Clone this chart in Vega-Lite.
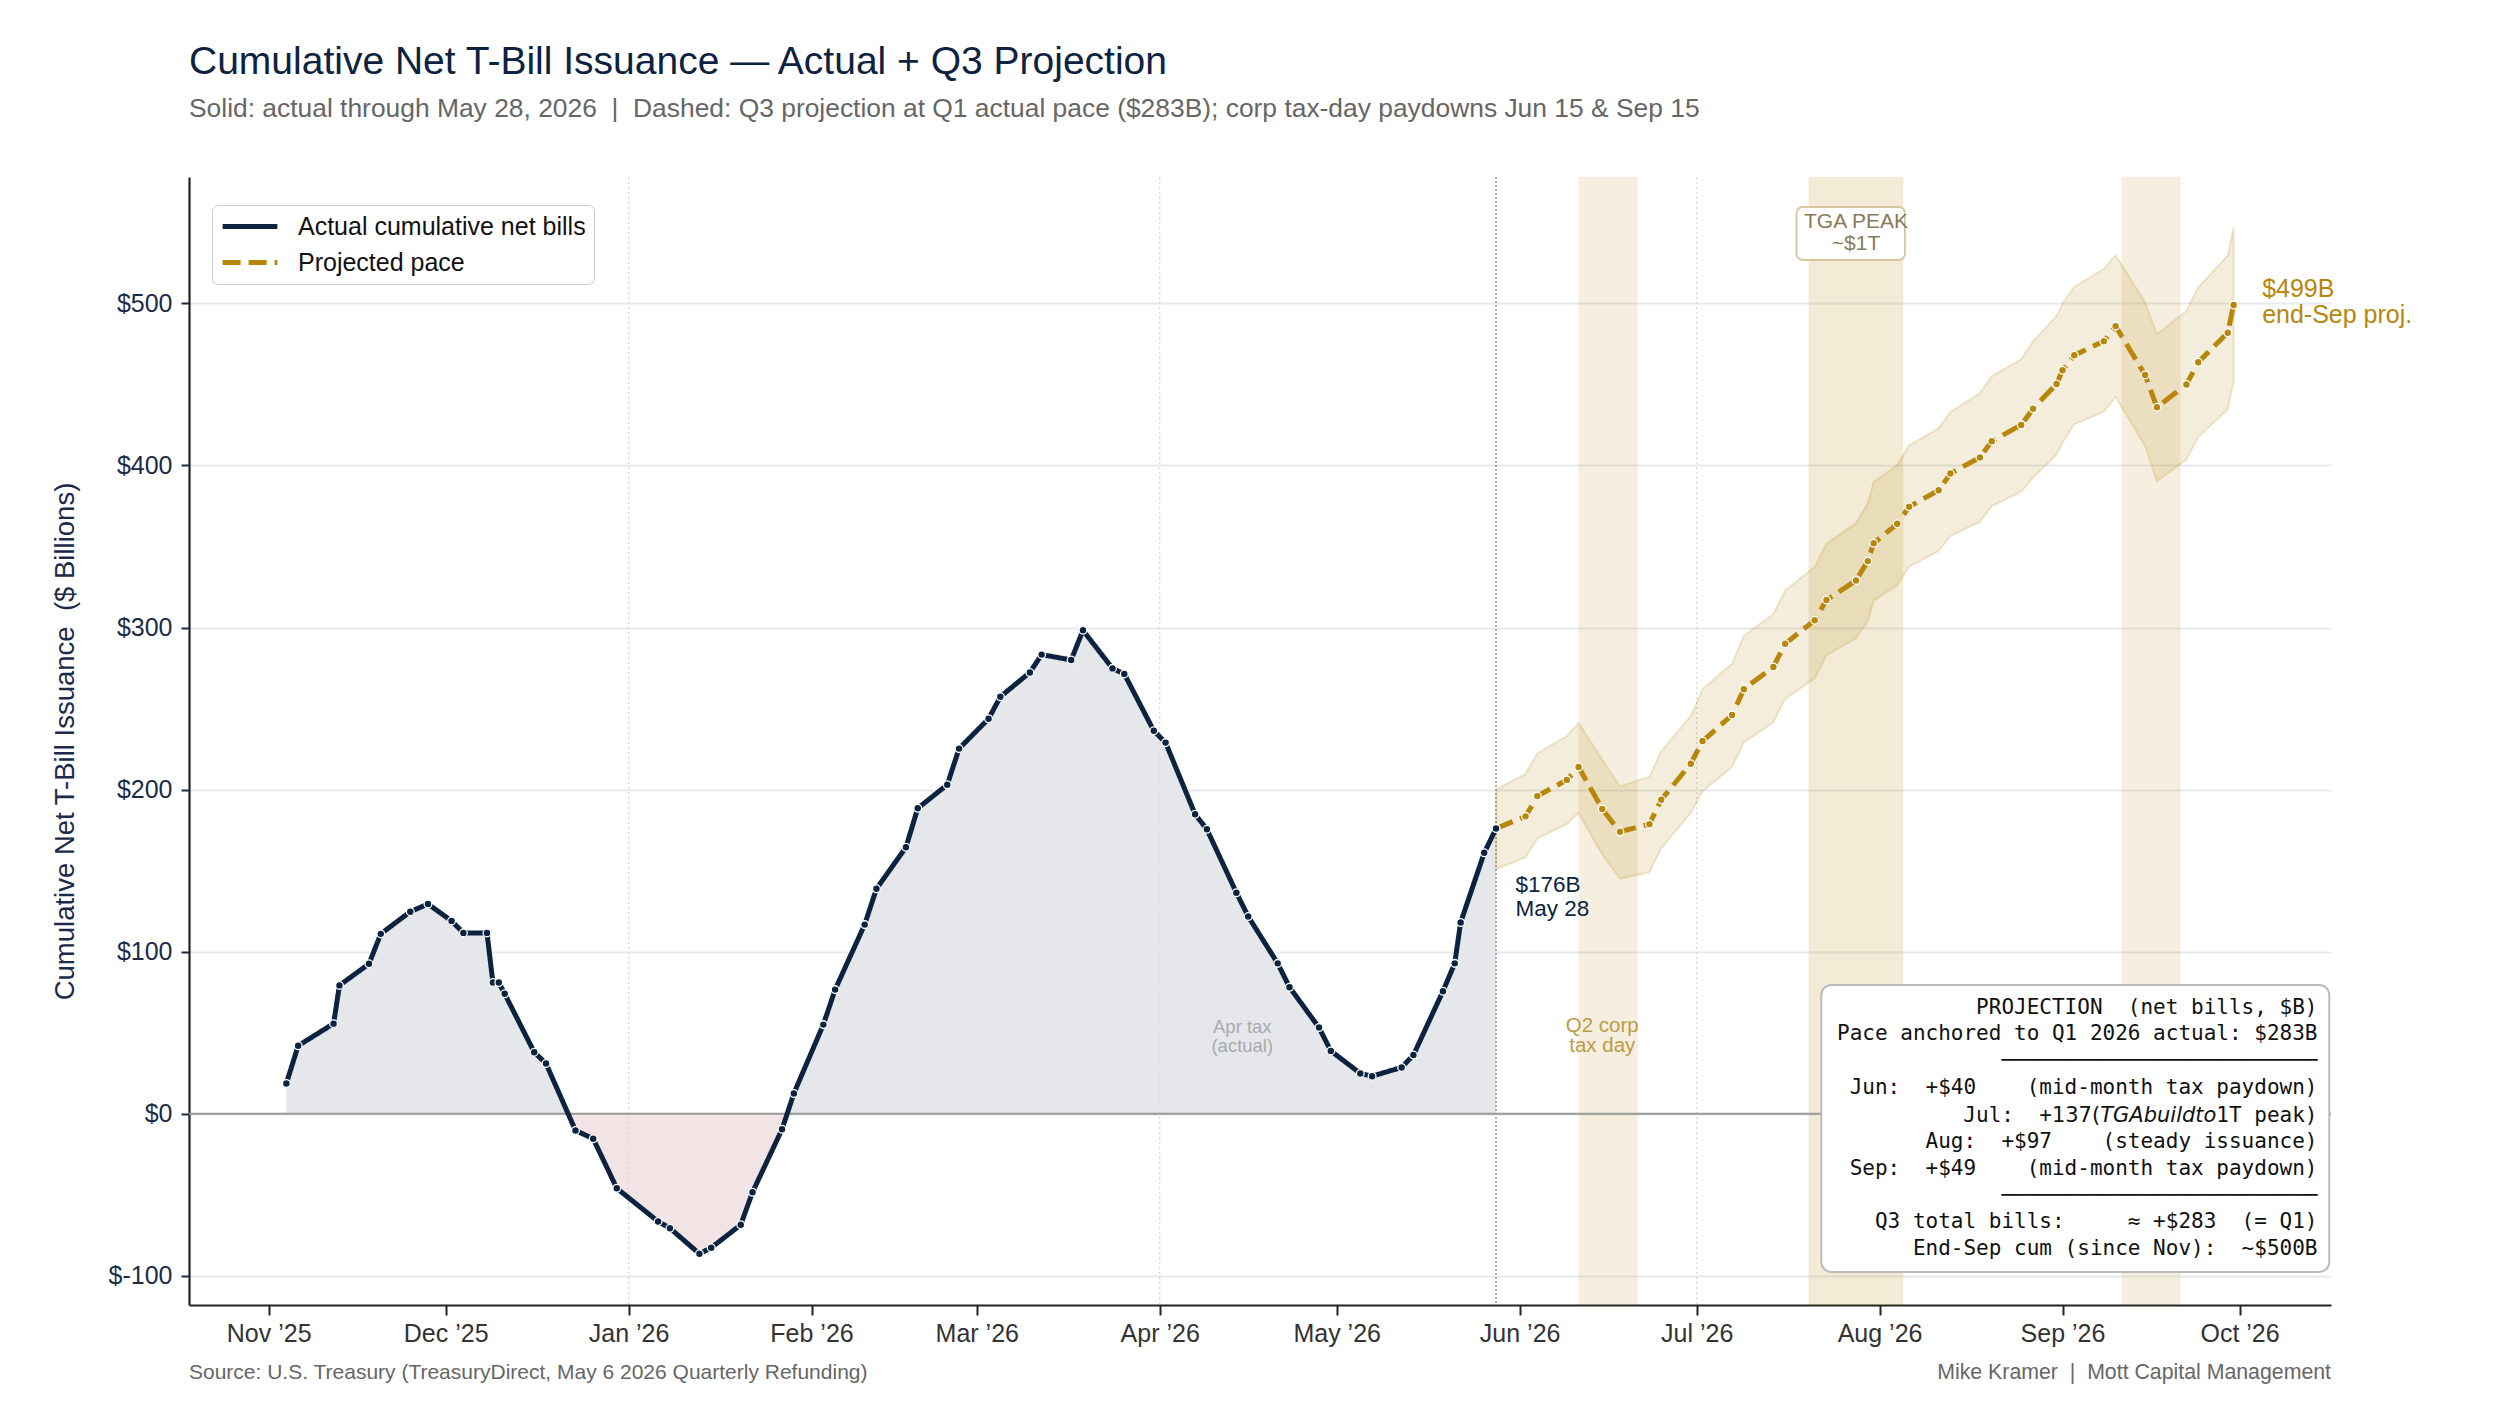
{
  "$schema": "https://vega.github.io/schema/vega-lite/v6.json",
  "width": 2142,
  "height": 1128,
  "autosize": {"type": "none"},
  "padding": {"left": 189, "top": 177, "right": 189, "bottom": 99},
  "background": "white",
  "config": {
    "view": {"stroke": null},
    "font": "Liberation Sans",
    "legend": {
      "orient": "none", "legendX": 23, "legendY": 28, "padding": 8,
      "fillColor": "white", "strokeColor": "#cccccc", "cornerRadius": 6,
      "labelFontSize": 25, "labelFont": "Liberation Sans", "labelColor": "#111111",
      "labelLimit": 500, "symbolType": "stroke", "symbolSize": 3000, "symbolStrokeWidth": 5,
      "labelOffset": 18, "rowPadding": 9, "clipHeight": 27
    }
  },
  "title": {
    "text": "Cumulative Net T-Bill Issuance — Actual + Q3 Projection",
    "subtitle": "Solid: actual through May 28, 2026\u00a0\u00a0|\u00a0\u00a0Dashed: Q3 projection at Q1 actual pace ($283B); corp tax-day paydowns Jun 15 & Sep 15",
    "anchor": "start", "frame": "group", "font": "Liberation Sans", "fontSize": 39, "fontWeight": "normal", "color": "#0d2240",
    "subtitleFont": "Liberation Sans", "subtitleFontSize": 26.4, "subtitleColor": "#666666", "subtitlePadding": 14, "offset": 54
  },
  "layer": [
    {
      "data": {"values": [{"d1": "2026-06-11", "d2": "2026-06-21"}, {"d1": "2026-09-11", "d2": "2026-09-21"}]},
      "mark": {"type": "rect", "color": "#b8860b", "opacity": 0.12, "stroke": "#b8860b", "strokeOpacity": 0.08, "strokeWidth": 2},
      "encoding": {
        "x": {"field": "d1", "type": "temporal",
          "scale": {"type": "utc", "domain": [{"year": 2025, "month": 10, "date": 18, "hours": 12, "utc": true}, {"year": 2026, "month": 10, "date": 16, "hours": 12, "utc": true}]},
          "axis": {
            "title": null, "grid": false,
            "values": [
              {"year": 2025, "month": 11, "date": 1, "utc": true}, {"year": 2025, "month": 12, "date": 1, "utc": true},
              {"year": 2026, "month": 1, "date": 1, "utc": true}, {"year": 2026, "month": 2, "date": 1, "utc": true},
              {"year": 2026, "month": 3, "date": 1, "utc": true}, {"year": 2026, "month": 4, "date": 1, "utc": true},
              {"year": 2026, "month": 5, "date": 1, "utc": true}, {"year": 2026, "month": 6, "date": 1, "utc": true},
              {"year": 2026, "month": 7, "date": 1, "utc": true}, {"year": 2026, "month": 8, "date": 1, "utc": true},
              {"year": 2026, "month": 9, "date": 1, "utc": true}, {"year": 2026, "month": 10, "date": 1, "utc": true}
            ],
            "labelExpr": "utcFormat(datum.value, '%b \u2019%y')",
            "labelFont": "Liberation Sans", "labelFontSize": 25, "labelColor": "#333333", "labelPadding": 6,
            "tickColor": "#222222", "tickSize": 10, "tickWidth": 2, "domainColor": "#222222", "domainWidth": 2.2
          }},
        "x2": {"field": "d2"}
      }
    },
    {
      "data": {"values": [{"d1": "2026-07-20", "d2": "2026-08-05"}]},
      "mark": {"type": "rect", "color": "#b8860b", "opacity": 0.16, "stroke": "#b8860b", "strokeOpacity": 0.1, "strokeWidth": 2},
      "encoding": {"x": {"field": "d1", "type": "temporal"}, "x2": {"field": "d2"}}
    },
    {
      "data": {"name": "actual", "values": [
        {"d": "2025-11-04", "v": 18.7}, {"d": "2025-11-06", "v": 42}, {"d": "2025-11-12", "v": 55.6}, {"d": "2025-11-13", "v": 79.2},
        {"d": "2025-11-18", "v": 92.5}, {"d": "2025-11-20", "v": 111}, {"d": "2025-11-25", "v": 124.7}, {"d": "2025-11-28", "v": 129.4},
        {"d": "2025-12-02", "v": 119}, {"d": "2025-12-04", "v": 111.6}, {"d": "2025-12-08", "v": 111.6}, {"d": "2025-12-09", "v": 81},
        {"d": "2025-12-10", "v": 81}, {"d": "2025-12-11", "v": 74}, {"d": "2025-12-16", "v": 38}, {"d": "2025-12-18", "v": 31},
        {"d": "2025-12-23", "v": -10.3}, {"d": "2025-12-26", "v": -15.4}, {"d": "2025-12-30", "v": -46}, {"d": "2026-01-06", "v": -66.5},
        {"d": "2026-01-08", "v": -70.6}, {"d": "2026-01-13", "v": -86.4}, {"d": "2026-01-15", "v": -82.7}, {"d": "2026-01-20", "v": -68.5},
        {"d": "2026-01-22", "v": -48.4}, {"d": "2026-01-27", "v": -9.6}, {"d": "2026-01-29", "v": 12.5}, {"d": "2026-02-03", "v": 55},
        {"d": "2026-02-05", "v": 76.6}, {"d": "2026-02-10", "v": 116.7}, {"d": "2026-02-12", "v": 138.8}, {"d": "2026-02-17", "v": 164.4},
        {"d": "2026-02-19", "v": 188.5}, {"d": "2026-02-24", "v": 203}, {"d": "2026-02-26", "v": 225.3}, {"d": "2026-03-03", "v": 243.7},
        {"d": "2026-03-05", "v": 257.3}, {"d": "2026-03-10", "v": 272.3}, {"d": "2026-03-12", "v": 283.3}, {"d": "2026-03-17", "v": 280},
        {"d": "2026-03-19", "v": 298.3}, {"d": "2026-03-24", "v": 274.8}, {"d": "2026-03-26", "v": 271.4}, {"d": "2026-03-31", "v": 236.3},
        {"d": "2026-04-02", "v": 229}, {"d": "2026-04-07", "v": 184.8}, {"d": "2026-04-09", "v": 175.5}, {"d": "2026-04-14", "v": 136.4},
        {"d": "2026-04-16", "v": 121.7}, {"d": "2026-04-21", "v": 92.8}, {"d": "2026-04-23", "v": 78.1}, {"d": "2026-04-28", "v": 53.2},
        {"d": "2026-04-30", "v": 38.8}, {"d": "2026-05-05", "v": 24.9}, {"d": "2026-05-07", "v": 23.2}, {"d": "2026-05-12", "v": 28.6},
        {"d": "2026-05-14", "v": 36.2}, {"d": "2026-05-19", "v": 75.6}, {"d": "2026-05-21", "v": 92.8}, {"d": "2026-05-22", "v": 118},
        {"d": "2026-05-26", "v": 161}, {"d": "2026-05-28", "v": 176}
      ]},
      "mark": {"type": "area", "fill": {"gradient": "linear", "x1": 0, "y1": 0, "x2": 0, "y2": 1, "stops": [
        {"offset": 0, "color": "#e5e7eb"}, {"offset": 0.7754, "color": "#e5e7eb"}, {"offset": 0.7754, "color": "#f2e4e4"}, {"offset": 1, "color": "#f2e4e4"}]}},
      "encoding": {
        "x": {"field": "d", "type": "temporal"},
        "y": {"field": "v", "type": "quantitative",
          "scale": {"domain": [-118, 578], "nice": false, "zero": false},
          "axis": {
            "values": [-100, 0, 100, 200, 300, 400, 500], "labelExpr": "'$' + datum.value",
            "title": "Cumulative Net T-Bill Issuance\u00a0\u00a0($ Billions)", "titleFont": "Liberation Sans", "titleFontSize": 27.5,
            "titleFontWeight": "normal", "titleColor": "#1b2b4a", "titlePadding": 29,
            "labelFont": "Liberation Sans", "labelFontSize": 25, "labelColor": "#1b2b4a", "labelPadding": 9,
            "grid": true, "gridColor": "#e6eaee", "gridWidth": 2,
            "tickColor": "#1b2b4a", "tickSize": 8, "tickWidth": 2, "domainColor": "#222222", "domainWidth": 2.2
          }},
        "y2": {"datum": 0}
      }
    },
    {
      "data": {"values": [{"d": "2026-01-01"}, {"d": "2026-04-01"}, {"d": "2026-07-01"}]},
      "mark": {"type": "rule", "color": "#d9d9d9", "strokeWidth": 1.3, "strokeDash": [2, 3]},
      "encoding": {"x": {"field": "d", "type": "temporal"}}
    },
    {
      "data": {"values": [{"v": 0}]},
      "mark": {"type": "rule", "color": "#999999", "strokeWidth": 2},
      "encoding": {"y": {"field": "v", "type": "quantitative"}}
    },
    {
      "data": {"values": [{"d": "2026-05-28"}]},
      "mark": {"type": "rule", "color": "#999999", "strokeWidth": 1.6, "strokeDash": [2, 2]},
      "encoding": {"x": {"field": "d", "type": "temporal"}}
    },
    {
      "data": {"name": "proj", "values": [
        {"d": "2026-05-28", "v": 176, "lo": 151, "hi": 200}, {"d": "2026-06-02", "v": 183.5, "lo": 158, "hi": 209.6},
        {"d": "2026-06-04", "v": 196, "lo": 169.8, "hi": 222.5}, {"d": "2026-06-09", "v": 206, "lo": 178.7, "hi": 233},
        {"d": "2026-06-11", "v": 214, "lo": 185.6, "hi": 241}, {"d": "2026-06-15", "v": 188, "lo": 160, "hi": 218.6},
        {"d": "2026-06-18", "v": 174, "lo": 145, "hi": 202}, {"d": "2026-06-23", "v": 178.7, "lo": 149, "hi": 208},
        {"d": "2026-06-25", "v": 193.7, "lo": 163.8, "hi": 223.7}, {"d": "2026-06-30", "v": 216, "lo": 185.6, "hi": 245.5},
        {"d": "2026-07-02", "v": 230, "lo": 199, "hi": 262}, {"d": "2026-07-07", "v": 246, "lo": 214, "hi": 277.8},
        {"d": "2026-07-09", "v": 262, "lo": 229, "hi": 295}, {"d": "2026-07-14", "v": 275.7, "lo": 241.6, "hi": 308.4},
        {"d": "2026-07-16", "v": 290, "lo": 256, "hi": 323}, {"d": "2026-07-21", "v": 304.5, "lo": 268.6, "hi": 337.4},
        {"d": "2026-07-23", "v": 317, "lo": 283, "hi": 351.8}, {"d": "2026-07-28", "v": 329, "lo": 293.4, "hi": 364.4},
        {"d": "2026-07-30", "v": 341, "lo": 304, "hi": 376.6}, {"d": "2026-07-31", "v": 352, "lo": 316.5, "hi": 389.8},
        {"d": "2026-08-04", "v": 364, "lo": 326.3, "hi": 400.3}, {"d": "2026-08-06", "v": 374.5, "lo": 337.4, "hi": 412.3},
        {"d": "2026-08-11", "v": 384.7, "lo": 347.3, "hi": 423}, {"d": "2026-08-13", "v": 395, "lo": 356.3, "hi": 433},
        {"d": "2026-08-18", "v": 405, "lo": 365.3, "hi": 444.6}, {"d": "2026-08-20", "v": 415, "lo": 375, "hi": 455},
        {"d": "2026-08-25", "v": 425, "lo": 383.8, "hi": 465.6}, {"d": "2026-08-27", "v": 435, "lo": 392.4, "hi": 476.5},
        {"d": "2026-08-31", "v": 450.3, "lo": 406.8, "hi": 492.4}, {"d": "2026-09-01", "v": 458.8, "lo": 414, "hi": 500},
        {"d": "2026-09-03", "v": 468, "lo": 425.4, "hi": 510.3}, {"d": "2026-09-08", "v": 476.7, "lo": 433.2, "hi": 521.2},
        {"d": "2026-09-10", "v": 486, "lo": 442.3, "hi": 529.9}, {"d": "2026-09-15", "v": 455.9, "lo": 412, "hi": 500.6},
        {"d": "2026-09-17", "v": 435.9, "lo": 390.3, "hi": 481}, {"d": "2026-09-22", "v": 450, "lo": 403.7, "hi": 495.5},
        {"d": "2026-09-24", "v": 463.7, "lo": 417.5, "hi": 510}, {"d": "2026-09-29", "v": 481.9, "lo": 434.6, "hi": 529.5},
        {"d": "2026-09-30", "v": 499, "lo": 452.2, "hi": 547}
      ]},
      "layer": [
        {
          "mark": {"type": "area", "color": "#b8860b", "fillOpacity": 0.15, "stroke": "#b8860b", "strokeOpacity": 0.18, "strokeWidth": 2},
          "encoding": {"x": {"field": "d", "type": "temporal"}, "y": {"field": "lo", "type": "quantitative"}, "y2": {"field": "hi"}}
        },
        {
          "mark": {"type": "line", "strokeWidth": 5},
          "encoding": {
            "x": {"field": "d", "type": "temporal"}, "y": {"field": "v", "type": "quantitative"},
            "color": {"datum": "Projected pace", "type": "nominal", "scale": {"domain": ["Actual cumulative net bills", "Projected pace"], "range": ["#0c2340", "#b8860b"]}, "legend": {"title": null}},
            "strokeDash": {"datum": "Projected pace", "type": "nominal", "scale": {"domain": ["Actual cumulative net bills", "Projected pace"], "range": [[1, 0], [18, 8]]}, "legend": {"title": null}}
          }
        },
        {
          "mark": {"type": "point", "filled": true, "size": 60, "color": "#b8860b", "stroke": "white", "strokeWidth": 1.3, "opacity": 1},
          "encoding": {"x": {"field": "d", "type": "temporal"}, "y": {"field": "v", "type": "quantitative"}}
        }
      ]
    },
    {
      "data": {"name": "actual"},
      "layer": [
        {
          "mark": {"type": "line", "strokeWidth": 5},
          "encoding": {
            "x": {"field": "d", "type": "temporal"}, "y": {"field": "v", "type": "quantitative"},
            "color": {"datum": "Actual cumulative net bills", "type": "nominal"},
            "strokeDash": {"datum": "Actual cumulative net bills", "type": "nominal"}
          }
        },
        {
          "mark": {"type": "point", "filled": true, "size": 60, "color": "#0c2340", "stroke": "white", "strokeWidth": 1.3, "opacity": 1},
          "encoding": {"x": {"field": "d", "type": "temporal"}, "y": {"field": "v", "type": "quantitative"}}
        }
      ]
    },
    {
      "data": {"values": [{"d": "2026-05-31T07:00:00Z", "v": 136.9}]},
      "mark": {"type": "text", "text": ["$176B", "May 28"], "align": "left", "baseline": "alphabetic", "lineHeight": 24, "fontSize": 22.5, "font": "Liberation Sans", "color": "#0c2340"},
      "encoding": {"x": {"field": "d", "type": "temporal"}, "y": {"field": "v", "type": "quantitative"}}
    },
    {
      "data": {"values": [{"d": "2026-04-15", "v": 49.9}]},
      "mark": {"type": "text", "text": ["Apr tax", "(actual)"], "align": "center", "baseline": "alphabetic", "lineHeight": 19, "fontSize": 18.5, "font": "Liberation Sans", "color": "#aaaaaa"},
      "encoding": {"x": {"field": "d", "type": "temporal"}, "y": {"field": "v", "type": "quantitative"}}
    },
    {
      "data": {"values": [{"d": "2026-06-15", "v": 50.7}]},
      "mark": {"type": "text", "text": ["Q2 corp", "tax day"], "align": "center", "baseline": "alphabetic", "lineHeight": 20.6, "fontSize": 20.5, "font": "Liberation Sans", "color": "#c09a45"},
      "encoding": {"x": {"field": "d", "type": "temporal"}, "y": {"field": "v", "type": "quantitative"}}
    },
    {
      "data": {"values": [{"d1": "2026-07-17T22:00:00Z", "d2": "2026-08-05T07:00:00Z", "v1": 526.8, "v2": 559.5}]},
      "mark": {"type": "rect", "fill": "white", "stroke": "#d6c7a0", "strokeWidth": 1.8, "cornerRadius": 6},
      "encoding": {"x": {"field": "d1", "type": "temporal"}, "x2": {"field": "d2"}, "y": {"field": "v1", "type": "quantitative"}, "y2": {"field": "v2"}}
    },
    {
      "data": {"values": [{"d": "2026-07-28", "v": 546.6}]},
      "mark": {"type": "text", "text": ["TGA PEAK", "~$1T"], "align": "center", "baseline": "alphabetic", "lineHeight": 22.6, "fontSize": 21, "font": "Liberation Sans", "color": "#8a7a58"},
      "encoding": {"x": {"field": "d", "type": "temporal"}, "y": {"field": "v", "type": "quantitative"}}
    },
    {
      "data": {"values": [{"d": "2026-10-04T20:00:00Z", "v": 504.2}]},
      "mark": {"type": "text", "text": ["$499B", "end-Sep proj."], "align": "left", "baseline": "alphabetic", "lineHeight": 26.5, "fontSize": 25, "font": "Liberation Sans", "color": "#b8860b"},
      "encoding": {"x": {"field": "d", "type": "temporal"}, "y": {"field": "v", "type": "quantitative"}}
    },
    {
      "data": {"values": [{"d1": "2026-07-22T03:00:00Z", "d2": "2026-10-16T05:00:00Z", "v1": -97.6, "v2": 79.5}]},
      "mark": {"type": "rect", "fill": "white", "stroke": "#bbbbbb", "strokeWidth": 2, "cornerRadius": 10},
      "encoding": {"x": {"field": "d1", "type": "temporal"}, "x2": {"field": "d2"}, "y": {"field": "v1", "type": "quantitative"}, "y2": {"field": "v2"}}
    },
    {
      "data": {"values": [{"d": "2026-10-14T05:00:00Z", "v": 61.8}]},
      "mark": {"type": "text", "align": "right", "baseline": "alphabetic", "lineHeight": 26.85, "fontSize": 21, "font": "DejaVu Sans Mono", "color": "#111111",
        "text": [
          "PROJECTION\u00a0\u00a0(net\u00a0bills,\u00a0$B)",
          "Pace\u00a0anchored\u00a0to\u00a0Q1\u00a02026\u00a0actual:\u00a0$283B",
          "\u2500\u2500\u2500\u2500\u2500\u2500\u2500\u2500\u2500\u2500\u2500\u2500\u2500\u2500\u2500\u2500\u2500\u2500\u2500\u2500\u2500\u2500\u2500\u2500\u2500",
          "Jun:\u00a0\u00a0+$40\u00a0\u00a0\u00a0\u00a0(mid-month\u00a0tax\u00a0paydown)"
        ]},
      "encoding": {"x": {"field": "d", "type": "temporal"}, "y": {"field": "v", "type": "quantitative"}}
    },
    {
      "data": {"values": [{"d": "2026-10-14T05:00:00Z", "v": -21.04}]},
      "mark": {"type": "text", "align": "right", "baseline": "alphabetic", "lineHeight": 26.85, "fontSize": 21, "font": "DejaVu Sans Mono", "color": "#111111",
        "text": [
          "Aug:\u00a0\u00a0+$97\u00a0\u00a0\u00a0\u00a0(steady\u00a0issuance)",
          "Sep:\u00a0\u00a0+$49\u00a0\u00a0\u00a0\u00a0(mid-month\u00a0tax\u00a0paydown)",
          "\u2500\u2500\u2500\u2500\u2500\u2500\u2500\u2500\u2500\u2500\u2500\u2500\u2500\u2500\u2500\u2500\u2500\u2500\u2500\u2500\u2500\u2500\u2500\u2500\u2500",
          "Q3\u00a0total\u00a0bills:\u00a0\u00a0\u00a0\u00a0\u00a0\u2248\u00a0+$283\u00a0\u00a0(=\u00a0Q1)",
          "End-Sep\u00a0cum\u00a0(since\u00a0Nov):\u00a0\u00a0~$500B"
        ]},
      "encoding": {"x": {"field": "d", "type": "temporal"}, "y": {"field": "v", "type": "quantitative"}}
    },
    {
      "data": {"values": [{"d": "2026-10-14T05:00:00Z", "v": -5.0}]},
      "layer": [
        {"mark": {"type": "text", "text": "1T\u00a0peak)", "align": "right", "baseline": "alphabetic", "fontSize": 21, "font": "DejaVu Sans Mono", "color": "#111111"},
         "encoding": {"x": {"field": "d", "type": "temporal"}, "y": {"field": "v", "type": "quantitative"}}},
        {"mark": {"type": "text", "text": "TGAbuildto", "align": "right", "baseline": "alphabetic", "fontSize": 21, "font": "DejaVu Sans", "fontStyle": "italic", "color": "#111111", "dx": -101.1},
         "encoding": {"x": {"field": "d", "type": "temporal"}, "y": {"field": "v", "type": "quantitative"}}},
        {"mark": {"type": "text", "text": "137(", "align": "right", "baseline": "alphabetic", "fontSize": 21, "font": "DejaVu Sans", "color": "#111111", "dx": -217.3},
         "encoding": {"x": {"field": "d", "type": "temporal"}, "y": {"field": "v", "type": "quantitative"}}},
        {"mark": {"type": "text", "text": "Jul:\u00a0\u00a0+", "align": "right", "baseline": "alphabetic", "fontSize": 21, "font": "DejaVu Sans Mono", "color": "#111111", "dx": -265.6},
         "encoding": {"x": {"field": "d", "type": "temporal"}, "y": {"field": "v", "type": "quantitative"}}}
      ]
    },
    {
      "data": {"values": [{"d": "2025-10-18T12:00:00Z", "v": -163.6}]},
      "mark": {"type": "text", "text": "Source: U.S. Treasury (TreasuryDirect, May 6 2026 Quarterly Refunding)", "align": "left", "baseline": "alphabetic", "fontSize": 21, "font": "Liberation Sans", "color": "#666666"},
      "encoding": {"x": {"field": "d", "type": "temporal"}, "y": {"field": "v", "type": "quantitative"}}
    },
    {
      "data": {"values": [{"d": "2026-10-16T12:00:00Z", "v": -163.6}]},
      "mark": {"type": "text", "text": "Mike Kramer\u00a0\u00a0|\u00a0\u00a0Mott Capital Management", "align": "right", "baseline": "alphabetic", "fontSize": 21.3, "font": "Liberation Sans", "color": "#666666"},
      "encoding": {"x": {"field": "d", "type": "temporal"}, "y": {"field": "v", "type": "quantitative"}}
    }
  ]
}
